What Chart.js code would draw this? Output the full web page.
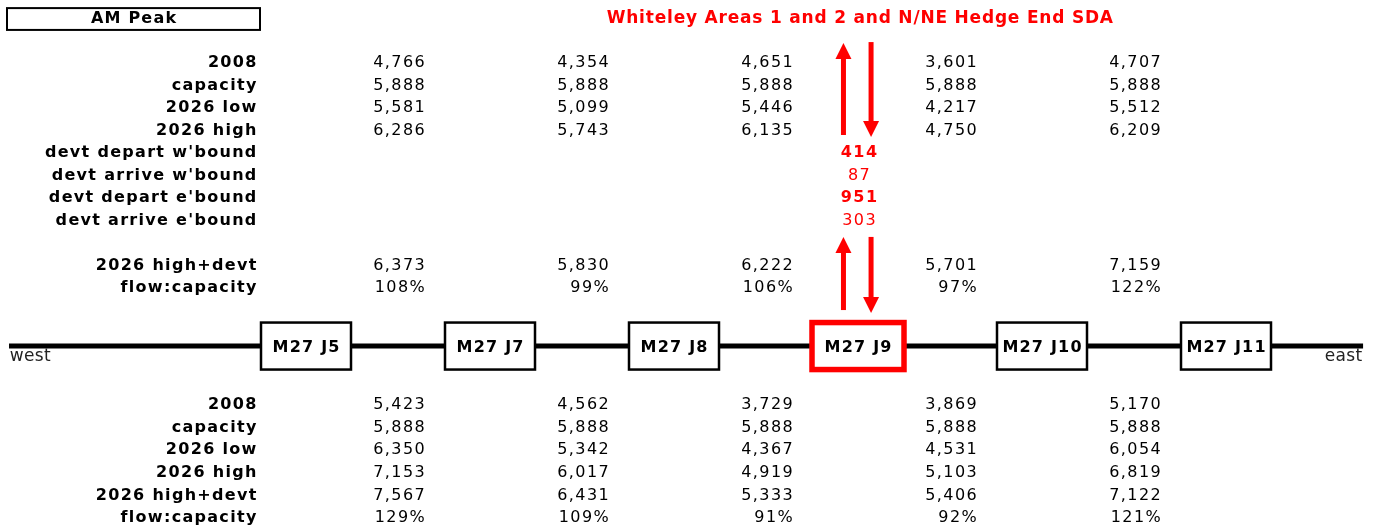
<!DOCTYPE html>
<html>
<head>
<meta charset="utf-8">
<script src="https://cdn.jsdelivr.net/npm/chart.js@4.4.1/dist/chart.umd.min.js"></script>
<style>
  html, body { margin: 0; padding: 0; background: #fff; }
  #wrap { width: 1375px; height: 531px; }
</style>
</head>
<body>
<div id="wrap"><canvas id="diagram" width="1375" height="531"></canvas></div>
<script>
// junctions along the M27, west to east
const junctions = ['M27 J5', 'M27 J7', 'M27 J8', 'M27 J9', 'M27 J10', 'M27 J11'];
const focusJunction = 'M27 J9';
const title = 'Whiteley Areas 1 and 2 and N/NE Hedge End SDA';
const period = 'AM Peak';

// westbound (upper side of the road)
const wbLabels = ['2008', 'capacity', '2026 low', '2026 high'];
const wb2008 = [4766, 4354, 4651, 3601, 4707];
const wbCapacity = [5888, 5888, 5888, 5888, 5888];
const wbLow2026 = [5581, 5099, 5446, 4217, 5512];
const wbHigh2026 = [6286, 5743, 6135, 4750, 6209];
const devtLabels = ["devt depart w'bound", "devt arrive w'bound", "devt depart e'bound", "devt arrive e'bound"];
const devtValues = [414, 87, 951, 303];
const devtBold = [true, false, true, false];
const wbLabels2 = ['2026 high+devt', 'flow:capacity'];
const wbHighDevt = [6373, 5830, 6222, 5701, 7159];
const wbFlowCap = [108, 99, 106, 97, 122];

// eastbound (lower side of the road)
const ebLabels = ['2008', 'capacity', '2026 low', '2026 high', '2026 high+devt', 'flow:capacity'];
const eb2008 = [5423, 4562, 3729, 3869, 5170];
const ebCapacity = [5888, 5888, 5888, 5888, 5888];
const ebLow2026 = [6350, 5342, 4367, 4531, 6054];
const ebHigh2026 = [7153, 6017, 4919, 5103, 6819];
const ebHighDevt = [7567, 6431, 5333, 5406, 7122];
const ebFlowCap = [129, 109, 91, 92, 121];

// layout (x in junction units, y in row units)
const labelX = -0.27;
const valueOffset = 0.645;
const roadRow = 12.58;
const ebFirstRow = 15.2;
const RED = '#ff0000';
const FONT = '"DejaVu Sans", Verdana, sans-serif';

const fmt = v => v.toLocaleString('en-US');
const pct = v => v + '%';

function text(ctx, s, x, y, opts) {
    ctx.save();
    ctx.font = (opts.bold ? 'bold ' : '') + (opts.size || 16) + 'px ' + FONT;
    ctx.fillStyle = opts.color || '#000';
    ctx.textAlign = opts.align || 'left';
    ctx.textBaseline = 'middle';
    const sp = opts.spacing != null ? opts.spacing : 1.3;
    ctx.letterSpacing = sp + 'px';
    let dx = 0;
    if (ctx.textAlign === 'right') dx = sp;
    if (ctx.textAlign === 'center') dx = sp / 2;
    ctx.fillText(s, x + dx, y);
    ctx.restore();
}

function arrow(ctx, x, yFrom, yTo) {
    // shaft from yFrom, head pointing at yTo
    const dir = yTo > yFrom ? 1 : -1;
    const head = 16;
    ctx.save();
    ctx.strokeStyle = RED;
    ctx.fillStyle = RED;
    ctx.lineWidth = 5;
    ctx.beginPath();
    ctx.moveTo(x, yFrom);
    ctx.lineTo(x, yTo - dir * head);
    ctx.stroke();
    ctx.beginPath();
    ctx.moveTo(x, yTo);
    ctx.lineTo(x - 8, yTo - dir * head);
    ctx.lineTo(x + 8, yTo - dir * head);
    ctx.closePath();
    ctx.fill();
    ctx.restore();
}

const diagramPlugin = {
    id: 'diagram',
    afterDatasetsDraw(chart) {
        const ctx = chart.ctx;
        const xs = chart.scales.x, ys = chart.scales.y;
        const px = u => xs.getPixelForValue(u);
        const py = r => ys.getPixelForValue(r);

        // period box
        ctx.save();
        ctx.strokeStyle = '#000';
        ctx.lineWidth = 2;
        ctx.strokeRect(px(-1.625), py(-2.44), px(-0.25) - px(-1.625), py(-1.47) - py(-2.44));
        ctx.restore();
        text(ctx, period, (px(-1.625) + px(-0.25)) / 2, py(-1.96), { bold: true, align: 'center', spacing: 1.2 });

        const focus = junctions.indexOf(focusJunction);
        text(ctx, title, px(focus + 0.01), py(-1.96), { bold: true, align: 'center', color: RED, size: 17, spacing: 0.8 });

        // westbound rows
        const wbRows = [wb2008, wbCapacity, wbLow2026, wbHigh2026];
        wbLabels.forEach((lab, r) => {
            text(ctx, lab, px(labelX), py(r), { bold: true, align: 'right' });
            wbRows[r].forEach((v, k) => text(ctx, fmt(v), px(k + valueOffset), py(r), { align: 'right', spacing: 1.4 }));
        });
        devtLabels.forEach((lab, i) => {
            const r = 4 + i;
            text(ctx, lab, px(labelX), py(r), { bold: true, align: 'right' });
            text(ctx, fmt(devtValues[i]), px(focus + 0.005), py(r), { bold: devtBold[i], align: 'center', color: RED, spacing: 1.4 });
        });
        [wbHighDevt, wbFlowCap].forEach((row, i) => {
            const r = 9 + i;
            text(ctx, wbLabels2[i], px(labelX), py(r), { bold: true, align: 'right' });
            row.forEach((v, k) => text(ctx, i === 1 ? pct(v) : fmt(v), px(k + valueOffset), py(r), { align: 'right', spacing: 1.4 }));
        });

        // eastbound rows
        const ebRows = [eb2008, ebCapacity, ebLow2026, ebHigh2026, ebHighDevt, ebFlowCap];
        ebLabels.forEach((lab, i) => {
            const r = ebFirstRow + i * 1.005;
            text(ctx, lab, px(labelX), py(r), { bold: true, align: 'right' });
            ebRows[i].forEach((v, k) => text(ctx, i === 5 ? pct(v) : fmt(v), px(k + valueOffset), py(r), { align: 'right', spacing: 1.4 }));
        });

        // direction words
        text(ctx, 'west', px(-1.61), py(roadRow) + 11, { color: '#222', size: 17, spacing: 0.3 });
        text(ctx, 'east', px(5.74), py(roadRow) + 11, { color: '#222', align: 'right', size: 17, spacing: 0.3 });

        // junction boxes
        junctions.forEach((j, i) => {
            const cx = px(i), cy = py(roadRow);
            const isFocus = j === focusJunction;
            const w = isFocus ? 92 : 90, h = isFocus ? 47 : 47;
            ctx.save();
            ctx.fillStyle = '#fff';
            ctx.fillRect(cx - w / 2, cy - h / 2, w, h);
            ctx.strokeStyle = isFocus ? RED : '#000';
            ctx.lineWidth = isFocus ? 5.5 : 2.5;
            ctx.strokeRect(cx - w / 2, cy - h / 2, w, h);
            ctx.restore();
            text(ctx, j, cx, cy + 1.5, { bold: true, align: 'center', size: 16, spacing: 1.2 });
        });

        // trip arrows at the focus junction
        const upX = px(focus - 0.079), downX = px(focus + 0.071);
        arrow(ctx, upX, py(3.2), py(-0.89));
        arrow(ctx, downX, py(-0.93), py(3.29));
        arrow(ctx, upX, py(10.98), py(7.73));
        arrow(ctx, downX, py(7.73), py(11.11));
    }
};

const roadEnds = [-1.614, 5.745];

new Chart(document.getElementById('diagram'), {
    type: 'scatter',
    data: {
        datasets: [{
            label: 'M27',
            data: roadEnds.map(u => ({ x: u, y: roadRow })),
            showLine: true,
            borderColor: '#000',
            borderWidth: 5,
            pointRadius: 0
        }]
    },
    options: {
        responsive: false,
        animation: false,
        devicePixelRatio: 1,
        layout: { padding: 0 },
        plugins: { legend: { display: false }, tooltip: { enabled: false } },
        scales: {
            x: { type: 'linear', min: -306 / 184, max: (1375 - 306) / 184, display: false },
            y: { type: 'linear', min: -2.8, max: 20.8, reverse: true, display: false }
        }
    },
    plugins: [diagramPlugin]
});
</script>
</body>
</html>
